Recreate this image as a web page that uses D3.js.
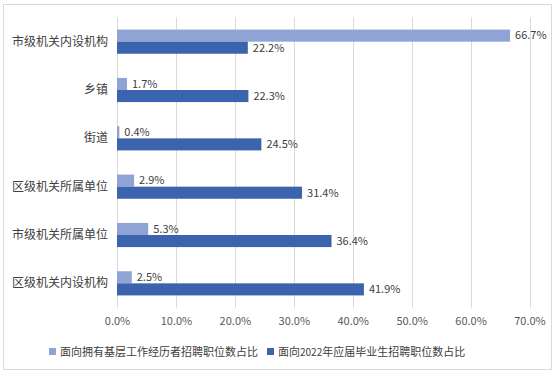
<!DOCTYPE html>
<html>
<head>
<meta charset="utf-8">
<script src="https://cdn.jsdelivr.net/npm/d3@7"></script>
<style>
  body { margin: 0; background: #fff; }
  svg text { font-family: "Microsoft YaHei", "Noto Sans CJK SC", sans-serif; }
</style>
</head>
<body>
<svg id="chart" width="560" height="376"></svg>
<script>
var categories = ['市级机关内设机构', '乡镇', '街道', '区级机关所属单位', '市级机关所属单位', '区级机关内设机构'];
var grassroots = [66.7, 1.7, 0.4, 2.9, 5.3, 2.5];
var graduates = [22.2, 22.3, 24.5, 31.4, 36.4, 41.9];
var seriesNames = [['面向拥有基层工作经历者招聘职位数占比'], ['面向', '2022', '年应届毕业生招聘职位数占比']];
var colors = ['#8FA3D5', '#3C64AE'];
var xTicks = [0, 10, 20, 30, 40, 50, 60, 70];

var svg = d3.select('#chart');

svg.append('rect')
    .attr('x', 3.5).attr('y', 4.5)
    .attr('width', 548).attr('height', 365)
    .attr('fill', '#fff')
    .attr('stroke', '#d9d9d9');

var x = d3.scaleLinear().domain([0, 70]).range([117, 529.5]);
var y = d3.scaleBand().domain(categories).range([17.5, 307.5]).paddingInner(0.5).paddingOuter(0.25);
var sub = d3.scaleBand().domain([0, 1]).range([0, y.bandwidth()]);

// gridlines
svg.append('g')
    .selectAll('line')
    .data(xTicks)
    .join('line')
    .attr('x1', function(d){ return Math.round(x(d)) + 0.5; })
    .attr('x2', function(d){ return Math.round(x(d)) + 0.5; })
    .attr('y1', 17.5).attr('y2', 307.5)
    .attr('stroke', '#d9d9d9');

// x axis labels
var xAxis = svg.append('g')
    .attr('transform', 'translate(0,307.5)')
    .call(d3.axisBottom(x).tickValues(xTicks).tickSize(0).tickPadding(10)
        .tickFormat(function(d){ return d.toFixed(1) + '%'; }));
xAxis.select('.domain').remove();
xAxis.selectAll('text').attr('fill', '#595959').attr('font-size', 11);

// y axis labels
var yAxis = svg.append('g')
    .attr('transform', 'translate(117,0)')
    .call(d3.axisLeft(y).tickSize(0).tickPadding(9));
yAxis.select('.domain').remove();
yAxis.selectAll('text').attr('fill', '#404040').attr('font-size', 12);

var series = [grassroots, graduates];

series.forEach(function(vals, si){
    var g = svg.append('g');
    g.selectAll('rect')
        .data(vals)
        .join('rect')
        .attr('x', x(0))
        .attr('y', function(d, i){ return y(categories[i]) + sub(si); })
        .attr('width', function(d){ return x(d) - x(0); })
        .attr('height', sub.bandwidth())
        .attr('fill', colors[si]);
    g.selectAll('text')
        .data(vals)
        .join('text')
        .attr('x', function(d){ return x(d) + 5; })
        .attr('y', function(d, i){ return y(categories[i]) + sub(si) + sub.bandwidth() / 2; })
        .attr('dy', '0.35em')
        .attr('fill', '#404040')
        .attr('font-size', 11)
        .text(function(d){ return d.toFixed(1) + '%'; });
});

// legend
var legendX = [49, 267];
var legend = svg.append('g');
seriesNames.forEach(function(parts, i){
    legend.append('rect')
        .attr('x', legendX[i]).attr('y', 348)
        .attr('width', 7).attr('height', 7)
        .attr('fill', colors[i]);
    var t = legend.append('text')
        .attr('x', legendX[i] + 11).attr('y', 352)
        .attr('dy', '0.35em')
        .attr('fill', '#404040')
        .attr('font-size', 11);
    parts.forEach(function(p){
        t.append('tspan')
            .attr('font-size', /^\d+$/.test(p) ? 10 : 11)
            .text(p);
    });
});
</script>
</body>
</html>
